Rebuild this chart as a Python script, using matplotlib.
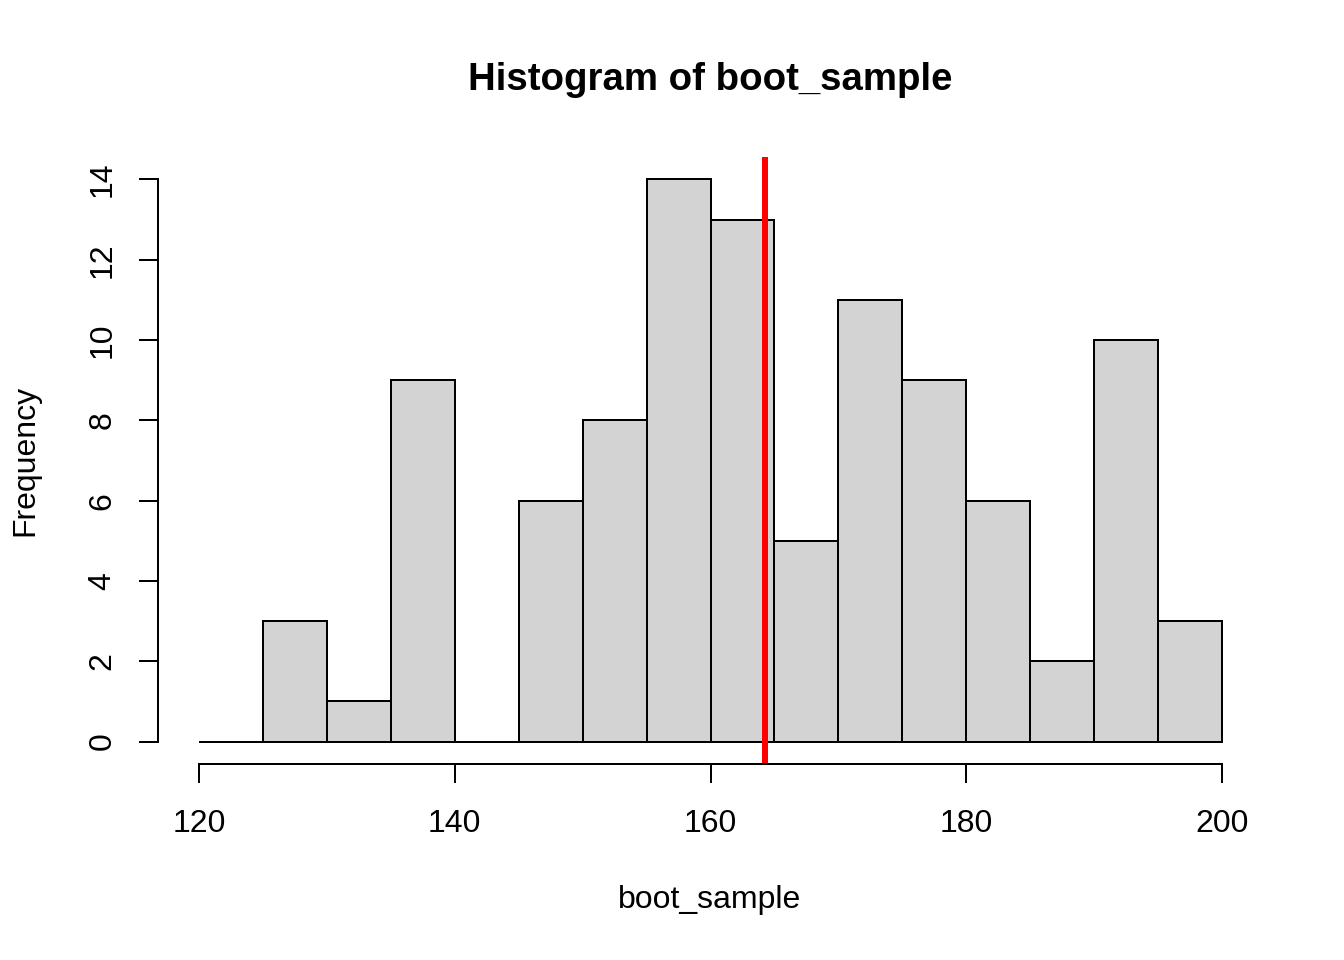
import matplotlib as mpl
import matplotlib.pyplot as plt

mpl.rc("font", family="Liberation Sans", size=12)

# histogram of boot_sample, 5-wide bins from 120 to 200
bin_edges = [120, 125, 130, 135, 140, 145, 150, 155, 160, 165, 170, 175, 180, 185, 190, 195, 200]
counts = [0, 3, 1, 9, 0, 6, 8, 14, 13, 5, 11, 9, 6, 2, 10, 3]
sample_mean = 164.25
x_ticks = [120, 140, 160, 180, 200]
y_ticks = [0, 2, 4, 6, 8, 10, 12, 14]

fig = plt.figure(figsize=(7, 5), dpi=192)
ax = fig.add_axes([158 / 1344, 1 - 764 / 960, (1263 - 158) / 1344, (764 - 157) / 960])

lefts = bin_edges[:-1]
widths = [b - a for a, b in zip(bin_edges[:-1], bin_edges[1:])]
ax.bar(lefts, counts, width=widths, align="edge", color="#D3D3D3",
       edgecolor="black", linewidth=0.75)
ax.axvline(sample_mean, color="red", lw=2.25, solid_capstyle="butt")

ax.set_xlim(116.8, 203.2)
ax.set_ylim(-0.56, 14.56)

for s in ["top", "right"]:
    ax.spines[s].set_visible(False)
ax.spines["left"].set_bounds(0, 14)
ax.spines["bottom"].set_bounds(120, 200)
ax.spines["left"].set_linewidth(0.75)
ax.spines["bottom"].set_linewidth(0.75)

ax.set_xticks(x_ticks)
ax.set_yticks(y_ticks)
ax.tick_params(length=7.2, width=0.75, labelsize=12)
ax.tick_params(axis="x", pad=9.5)
ax.tick_params(axis="y", pad=8, labelrotation=90)
for lbl in ax.get_yticklabels():
    lbl.set_va("center")

fig.text(710 / 1344, 1 - 80 / 960, "Histogram of boot_sample",
         ha="center", va="center", fontsize=14.4, fontweight="bold")
fig.text(710 / 1344, 1 - 900 / 960, "boot_sample", ha="center", va="center")
fig.text(25 / 1344, 1 - 460 / 960, "Frequency", ha="center", va="center",
         rotation=90)

fig.savefig("out.png", dpi=192)
